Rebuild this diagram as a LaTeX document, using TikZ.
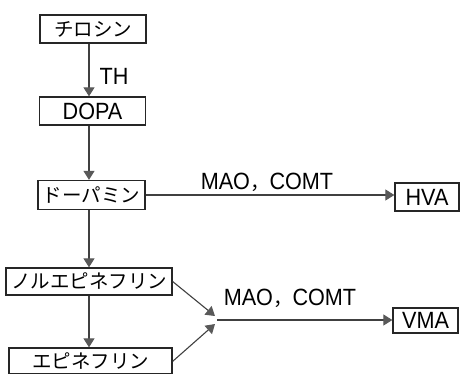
\documentclass[tikz,border=0pt]{standalone}
\usepackage{fontspec}
\setmainfont{Liberation Sans}[FakeStretch=0.92]
\newfontfamily\jpfam{Noto Sans CJK JP}
\newcommand\jpc{\jpfam\fontsize{19.5}{22}\selectfont}
\usetikzlibrary{arrows.meta,calc}
\tikzset{
  box/.style={draw=black!85, line width=1.3pt, fill=white, inner sep=0pt},
  arr/.style={draw=black!75, line width=1.1pt,
    -{Triangle[length=9pt,width=11pt,color=black!65,fill=black!65]}},
  lbl/.style={inner sep=0pt}
}
\begin{document}
\begin{tikzpicture}[x=1pt,y=-1pt, font=\fontsize{23.5}{26}\selectfont]
\useasboundingbox (0,0) rectangle (462,373);
\clip (0,0) rectangle (462,373);
\coordinate (col) at (89,0);
\node[box, minimum width=106pt, minimum height=28pt] (tyr) at (93,29) {\jpc チロシン};
\node[box, minimum width=106pt, minimum height=28pt] (dopa) at (92.5,111) {DOPA};
\node[box, minimum width=107pt, minimum height=29pt] (dop) at (91.5,195) {\jpc ドーパミン};
\node[box, minimum width=64pt, minimum height=28pt] (HVA) at (427,197) {HVA};
\node[box, minimum width=166pt, minimum height=27pt] (NE) at (89,281.5) {\jpc ノルエピネフリン};
\node[box, minimum width=163pt, minimum height=26pt] (E) at (90.5,361) {\jpc エピネフリン};
\node[box, minimum width=65pt, minimum height=25pt] (VMA) at (425.5,320.5) {VMA};
\draw[arr] (tyr.south -| col) -- (dopa.north -| col);
\node[lbl] (th) at (114,76) {TH};
\draw[arr] (dopa.south -| col) -- (dop.north -| col);
\draw[arr] (dop.south -| col) -- (NE.north -| col);
\draw[arr] (NE.south -| col) -- (E.north -| col);
\draw[arr] (dop.east) -- (dop.east -| HVA.west);
\node[lbl] (m1) at (267,182) {MAO{\jpc ，}COMT};
\coordinate (J1) at (215,316);
\coordinate (J2) at (215,324);
\coordinate (J) at (217,320);
\coordinate (Es) at ($(E.north east)+(0,14)$);
\draw[arr] (NE.east) -- (J1);
\draw[arr] (Es) -- (J2);
\draw[arr] (J) -- (J -| VMA.west);
\node[lbl] (m2) at (290,298.5) {MAO{\jpc ，}COMT};
\end{tikzpicture}
\end{document}
